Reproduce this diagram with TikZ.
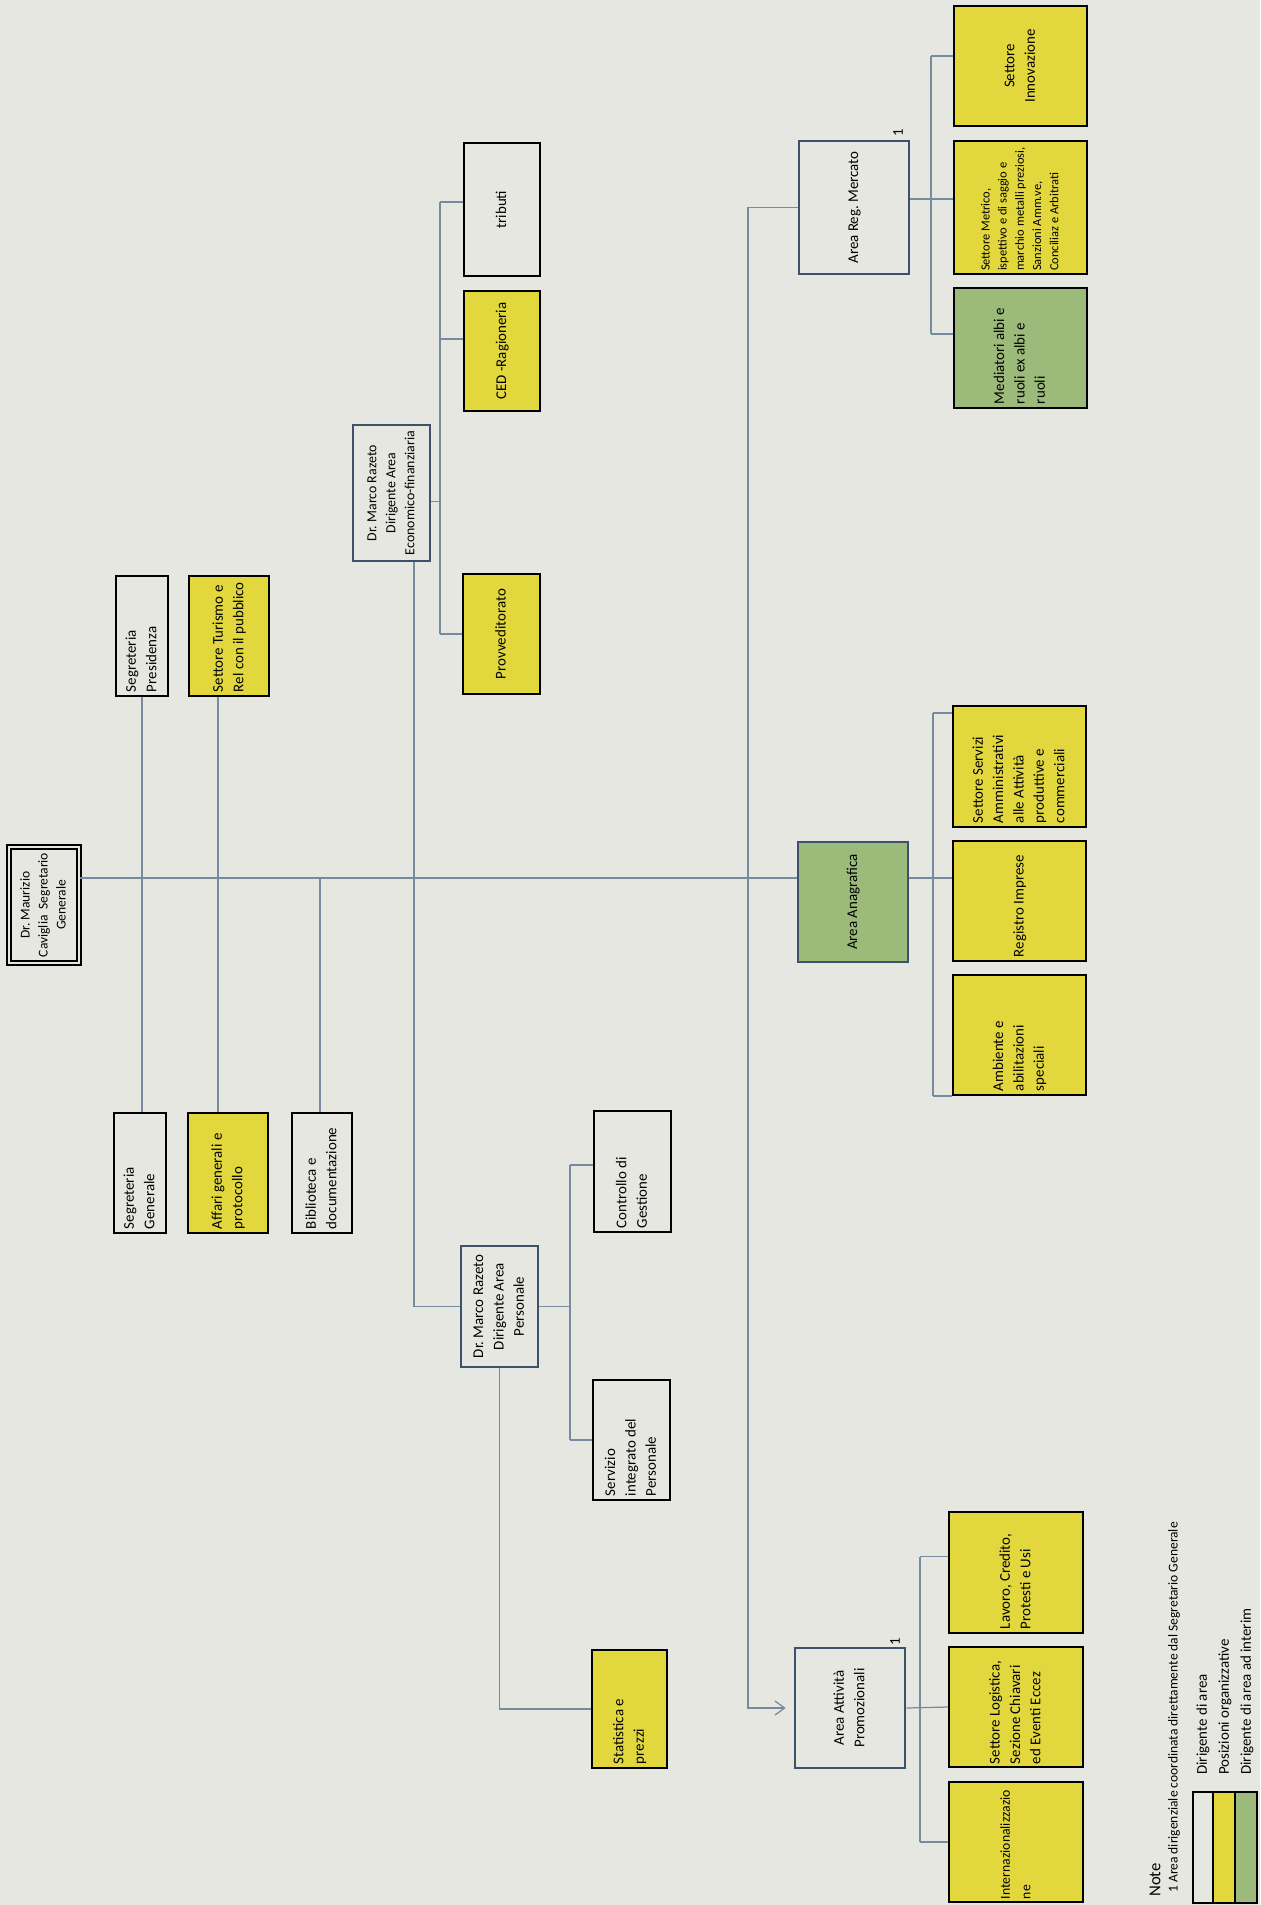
\documentclass[tikz,border=0pt]{standalone}
\usepackage{fontspec}
\setmainfont{Carlito}
\usepackage{graphicx}
\usetikzlibrary{arrows.meta,calc}
\frenchspacing

\definecolor{paper}{RGB}{231,231,226}
\definecolor{poyellow}{RGB}{226,216,62}
\definecolor{adigreen}{RGB}{156,186,122}
\definecolor{dirblue}{RGB}{60,82,106}
\definecolor{linkblue}{RGB}{118,138,160}

% one pixel of the scan
\newlength{\pxu}\setlength{\pxu}{0.02cm}
\newcommand{\boxfont}{\fontsize{8.5}{11.6}\selectfont}
\newcommand{\ecofont}{\fontsize{7.9}{10.8}\selectfont}
\newcommand{\sgfont}{\fontsize{7.7}{10.3}\selectfont}
\newcommand{\smallboxfont}{\fontsize{7.1}{9.8}\selectfont}
\newcommand{\longwordfont}{\fontsize{7.8}{11.6}\selectfont}
\newcommand{\notefont}{\fontsize{9.5}{11}\selectfont}
\newcommand{\notelinefont}{\fontsize{7.7}{9}\selectfont}
% text read from bottom to top
\newcommand{\ltext}[2]{\rotatebox{90}{\makebox[\dimexpr#1\pxu\relax][l]{\begin{tabular}{@{}l@{}}#2\end{tabular}}}}
\newcommand{\ctext}[1]{\rotatebox{90}{\begin{tabular}{@{}c@{}}#1\end{tabular}}}

\tikzset{
  wh/.style 2 args={minimum width=#1*\pxu, minimum height=#2*\pxu},
  box/.style={draw=black, line width=1pt, inner sep=0pt, font=\boxfont},
  plain/.style={box},
  po/.style={box, fill=poyellow},
  adi/.style={box, fill=adigreen},
  dir/.style={box, draw=dirblue, line width=1.6pt},
  dirm/.style={box, line width=1pt, double=paper, double distance=1.1pt, font=\sgfont},
  link/.style={draw=linkblue, line width=0.7pt},
  legtext/.style={rotate=90, inner sep=0pt, font=\boxfont},
}

\begin{document}
\begin{tikzpicture}[x=0.02cm, y=-0.02cm]
  \path[use as bounding box, fill=paper] (0,0) rectangle (1260,1905);

  % segretario generale and staff
  \node[dirm, wh={70}{116}] (sg) at (44,905) {\ctext{Dr. Maurizio\\Caviglia\ \ Segretario\\Generale}};
  \node[plain, wh={52}{120}] (segpres) at (142,636) {\ltext{112}{Segreteria\\Presidenza}};
  \node[po, wh={80}{120}] (turismo) at (229,636) {\ltext{112}{Settore Turismo e\\Rel con il pubblico}};
  \node[plain, wh={52}{120}] (seggen) at (140,1173) {\ltext{112}{Segreteria\\Generale}};
  \node[po, wh={80}{120}] (affari) at (228,1173) {\ltext{112}{Affari generali e\\protocollo}};
  \node[plain, wh={60}{120}] (biblio) at (322,1173) {\ltext{112}{Biblioteca e\\documentazione}};

  % area economico-finanziaria
  \node[dir, wh={77}{136}, font=\ecofont] (eco) at (391.5,493) {\ctext{Dr. Marco Razeto\\Dirigente Area\\Economico-finanziaria}};
  \node[plain, wh={76}{133}] (tributi) at (502,209.5) {\ctext{tributi}};
  \node[po, wh={76}{120}] (ced) at (502,351) {\ctext{CED -Ragioneria}};
  \node[po, wh={77}{120}] (provv) at (501.5,634) {\ctext{Provveditorato}};

  % area personale
  \node[dir, wh={77}{121}] (personale) at (499.5,1306.5) {\ctext{Dr. Marco Razeto\\Dirigente Area\\Personale}};
  \node[plain, wh={77}{121}] (controllo) at (632.5,1171.5) {\ltext{113}{Controllo di\\Gestione}};
  \node[plain, wh={77}{120}] (servint) at (631.5,1440) {\ltext{112}{Servizio\\integrato del\\Personale}};
  \node[po, wh={75}{118}] (statistica) at (629.5,1709) {\ltext{110}{Statistica e\\prezzi}};

  % area reg. mercato
  \node[dir, wh={110}{133}] (mercato) at (854,207.5) {\ctext{Area Reg. Mercato}};
  \node[legtext] (m1) at (898,133) {1};
  \node[po, wh={133}{120}] (innov) at (1020.5,66) {\ctext{Settore\\Innovazione}};
  \node[po, wh={133}{133}, font=\smallboxfont] (metrico) at (1020.5,207.5) {\ltext{127}{Settore Metrico,\\ispettivo e di saggio e\\marchio metalli preziosi,\\Sanzioni Amm.ve,\\Conciliaz e Arbitrati}};
  \node[adi, wh={133}{120}] (mediatori) at (1020.5,348) {\ltext{112}{Mediatori albi e\\ruoli ex albi e\\ruoli}};

  % area anagrafica
  \node[dir, fill=adigreen, wh={110}{120}] (anagrafica) at (853,902) {\ctext{Area Anagrafica}};
  \node[po, wh={133}{121}] (servizi) at (1019.5,766.5) {\ltext{113}{Settore Servizi\\Amministrativi\\alle Attività\\produttive e\\commerciali}};
  \node[po, wh={133}{120}] (registro) at (1019.5,901) {\ltext{112}{Registro Imprese}};
  \node[po, wh={133}{120}] (ambiente) at (1019.5,1035) {\ltext{112}{Ambiente e\\abilitazioni\\speciali}};

  % area attivita promozionali
  \node[dir, wh={110}{120}] (promo) at (850,1708) {\ctext{Area Attività\\Promozionali}};
  \node[legtext] (m2) at (895,1642) {1};
  \node[po, wh={134}{121}] (lavoro) at (1016,1572.5) {\ltext{113}{Lavoro, Credito,\\Protesti e Usi}};
  \node[po, wh={134}{120}] (logistica) at (1016,1707) {\ltext{114}{Settore Logistica,\\Sezione Chiavari\\ed Eventi Eccez}};
  \node[po, wh={134}{120}, font=\longwordfont] (internaz) at (1016,1842) {\ltext{114}{Internazionalizzazio\\ne}};

  % legenda
  \node[legtext, anchor=west, font=\notefont] (note) at (1155,1897) {Note};
  \node[legtext, anchor=west, font=\notelinefont] (nota1) at (1174,1893) {1 Area dirigenziale coordinata direttamente dal Segretario Generale};
  \node[plain, wh={20}{111}] (lwhite) at (1203,1847.5) {};
  \node[po, wh={22}{111}] (lyellow) at (1224,1847.5) {};
  \node[adi, wh={22}{111}] (lgreen) at (1246,1847.5) {};
  \node[legtext, anchor=west] (tdir) at (1203,1775) {Dirigente di area};
  \node[legtext, anchor=west] (tpo) at (1225,1775) {Posizioni organizzative};
  \node[legtext, anchor=west] (tadi) at (1247,1775) {Dirigente di area ad interim};

  % connectors
  \coordinate (trunk) at (0,878);
  \coordinate (vs) at (142,0);
  \coordinate (vt) at (218,0);
  \coordinate (vb) at (320,0);
  \coordinate (ve) at (414,0);
  \coordinate (eb) at (440,0);
  \coordinate (pb) at (570,0);
  \coordinate (vm) at (748,0);
  \coordinate (mb) at (931,0);
  \coordinate (ab) at (933,0);
  \coordinate (ap) at (920,0);

  \draw[link] (sg.east |- trunk) -- (anagrafica.west |- trunk);
  \draw[link] (segpres.south -| vs) -- (seggen.north -| vs);
  \draw[link] (turismo.south -| vt) -- (affari.north -| vt);
  \draw[link] (vb |- trunk) -- (biblio.north -| vb);

  \draw[link] (eco.south -| ve) |- (personale.west);
  \path ([yshift=-5pt]eco.east) coordinate (e0)
        ([yshift=4.3pt]tributi.west) coordinate (e1)
        ([yshift=6.8pt]ced.west) coordinate (e2);
  \draw[link] (e0) -- (e0 -| eb);
  \draw[link] (e1 -| eb) -- (provv.west -| eb);
  \foreach \n in {e1,e2,provv.west}
    \draw[link] (\n -| eb) -- (\n);

  \path ([yshift=3.7pt]controllo.west) coordinate (c1);
  \draw[link] (personale.east) -- (personale.east -| pb);
  \draw[link] (c1 -| pb) -- (servint.west -| pb);
  \foreach \n in {c1,servint.west}
    \draw[link] (\n -| pb) -- (\n);
  \draw[link] (personale.south) |- (statistica.west);

  \draw[link, -{Straight Barb[length=5.5pt, width=8pt]}, shorten >=4.5pt]
    (mercato.west) -| (promo.west -| vm) -- (promo.west);

  \path ([yshift=5.7pt]innov.west) coordinate (r1)
        ([yshift=4.8pt]metrico.west) coordinate (r2)
        ([yshift=8pt]mediatori.west) coordinate (r3);
  \draw[link] (mercato.east |- r2) -- (r2);
  \draw[link] (r1 -| mb) -- (r3 -| mb);
  \foreach \n in {r1,r3}
    \draw[link] (\n -| mb) -- (\n);

  \coordinate (s1) at ([yshift=-4.5pt]servizi.north west);
  \draw[link] (anagrafica.east |- trunk) -- (registro.west |- trunk);
  \draw[link] (s1 -| ab) -- (ambiente.south west -| ab);
  \draw[link] (s1 -| ab) -- (s1);
  \draw[link] (ambiente.south west -| ab) -- (ambiente.south west);

  \coordinate (l1) at ([yshift=9pt]lavoro.west);
  \draw[link] (promo.east) -- (logistica.west);
  \draw[link] (l1 -| ap) -- (internaz.west -| ap);
  \draw[link] (l1 -| ap) -- (l1);
  \draw[link] (internaz.west -| ap) -- (internaz.west);
\end{tikzpicture}
\end{document}
